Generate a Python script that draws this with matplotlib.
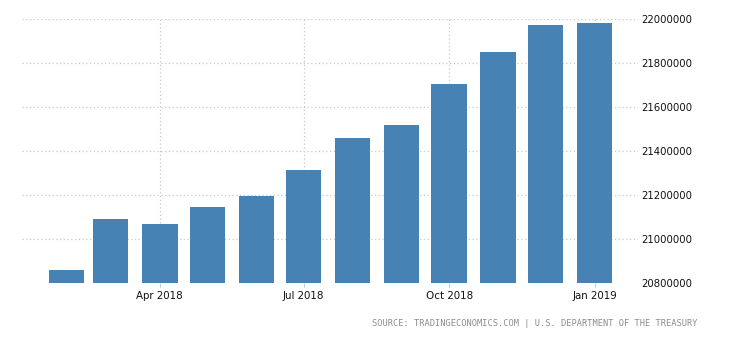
import matplotlib
matplotlib.use("Agg")
import matplotlib.pyplot as plt
import matplotlib.dates as mdates
import datetime as dt

# Monthly values (Feb 2018 - Jan 2019)
months = ["2018-02-01", "2018-03-01", "2018-04-01", "2018-05-01", "2018-06-01",
          "2018-07-01", "2018-08-01", "2018-09-01", "2018-10-01", "2018-11-01",
          "2018-12-01", "2019-01-01"]
values = [20859000, 21091000, 21069000, 21146000, 21196000, 21315000,
          21460000, 21520000, 21706000, 21852000, 21975000, 21984000]
tick_dates = ["2018-04-01", "2018-07-01", "2018-10-01", "2019-01-01"]
tick_labels = ["Apr 2018", "Jul 2018", "Oct 2018", "Jan 2019"]
y_ticks = [20800000, 21000000, 21200000, 21400000, 21600000, 21800000, 22000000]
source_text = "SOURCE: TRADINGECONOMICS.COM | U.S. DEPARTMENT OF THE TREASURY"

plt.rcParams["font.family"] = ["DejaVu Sans"]

fig = plt.figure(figsize=(7.3, 3.4), dpi=100)
ax = fig.add_axes([22 / 730, 1 - 283 / 340, (638 - 22) / 730, (283 - 19) / 340])

x = mdates.date2num([dt.datetime.fromisoformat(m) for m in months])
ax.bar(x, values, width=22.4, color="#4682b4", zorder=3, bottom=0)

ax.set_ylim(20800000, 22000000)
ax.set_xlim(mdates.date2num(dt.datetime(2018, 1, 3, 20)),
            mdates.date2num(dt.datetime(2019, 1, 28, 12)))

ax.set_yticks(y_ticks)
ax.set_yticklabels([str(v) for v in y_ticks])
ax.yaxis.tick_right()
ax.tick_params(axis="y", length=0, pad=2, labelsize=7.3, labelcolor="#111111")

xt = mdates.date2num([dt.datetime.fromisoformat(d) for d in tick_dates])
ax.set_xticks(xt)
ax.set_xticklabels(tick_labels)
ax.tick_params(axis="x", length=3, width=0.8, color="#cccccc", pad=3,
               labelsize=7.4, labelcolor="#111111")

ax.grid(True, axis="both", linestyle=(0, (1, 2)), color="#c8c8c8", linewidth=0.9, zorder=0)
for s in ax.spines.values():
    s.set_visible(False)

fig.text(697 / 730, 1 - 324 / 340, source_text, ha="right", va="center",
         fontsize=6.2, color="#8c8c8c", family="DejaVu Sans Mono")

fig.savefig("out.png", dpi=100)
